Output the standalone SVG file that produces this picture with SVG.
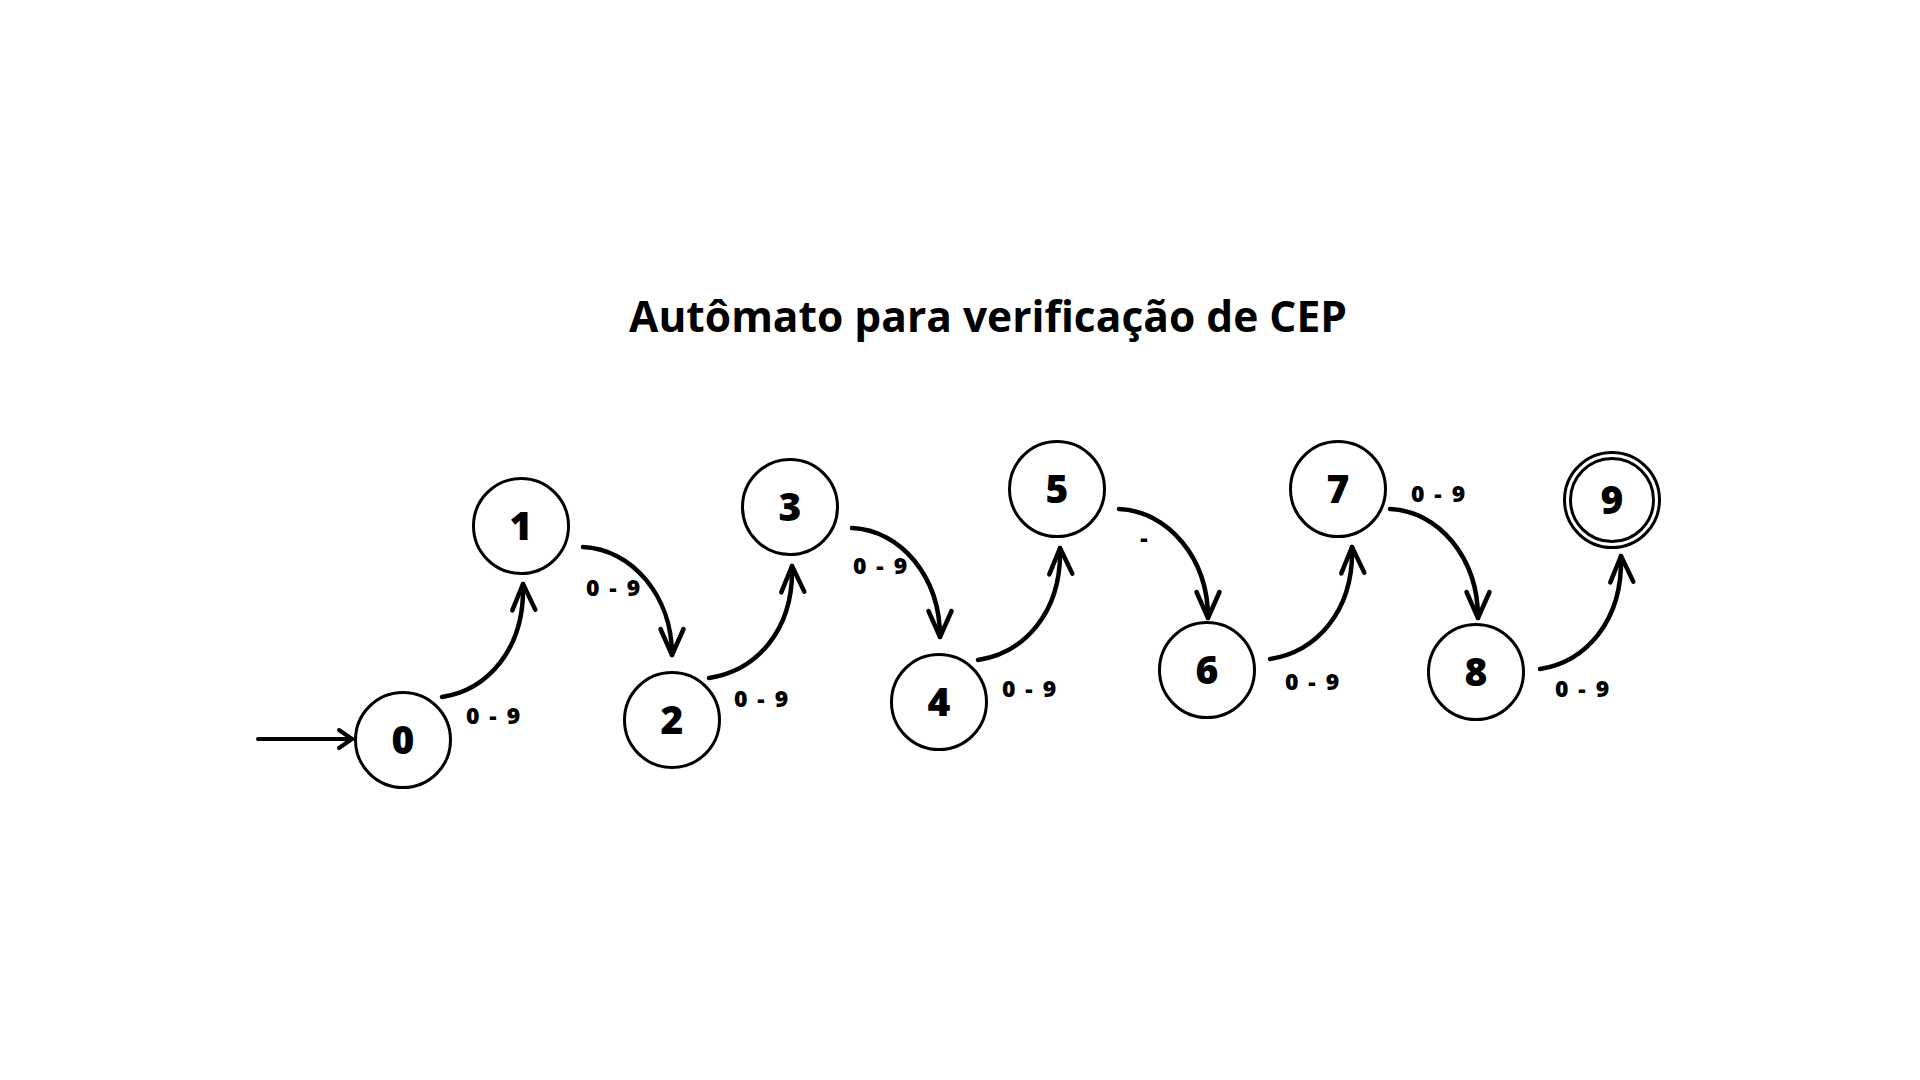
<svg xmlns="http://www.w3.org/2000/svg" width="1920" height="1080" viewBox="0 0 1920 1080">
<style>
.node circle{fill:#fff;stroke:#000;stroke-width:3}
.node text{font-family:"Open Sans","Noto Sans",sans-serif;font-weight:800;font-size:39px;text-anchor:middle;fill:#000}
.edge{fill:none;stroke:#000;stroke-width:4.5;stroke-linecap:round;marker-end:url(#head)}
.lbl{font-family:"Open Sans","Noto Sans",sans-serif;font-weight:800;font-size:23px;letter-spacing:2px;text-anchor:middle;fill:#000}
.title{font-family:"Open Sans","Noto Sans",sans-serif;font-weight:700;font-size:42.5px;text-anchor:middle;fill:#000}
</style>
<defs>
<marker id="head" markerUnits="userSpaceOnUse" markerWidth="40" markerHeight="40" refX="0" refY="0" orient="auto" overflow="visible">
<path d="M-26,-11.5 L0,0 L-26,11.5" fill="none" stroke="#000" stroke-width="4.5" stroke-linecap="round" stroke-linejoin="round"/>
</marker>
<marker id="small" markerUnits="userSpaceOnUse" markerWidth="30" markerHeight="30" refX="0" refY="0" orient="auto" overflow="visible">
<path d="M-13,-9 L0,0 L-13,9" fill="none" stroke="#000" stroke-width="4" stroke-linecap="round" stroke-linejoin="round"/>
</marker>
</defs>
<rect width="1920" height="1080" fill="#fff"/>
<text class="title" x="988" y="332">Autômato para verificação de CEP</text>
<g id="connectors">
<path d="M258,739 L352,739" fill="none" stroke="#000" stroke-width="4" stroke-linecap="round" marker-end="url(#small)"/>
<path class="edge" d="M442,697 C487,690 525,650 523,584"/>
<path class="edge" d="M583,547 C632,549 672,596 672,655"/>
<path class="edge" d="M709,678 C755,671 794,632 792,566"/>
<path class="edge" d="M852,528 C901,530 940,577 940,637"/>
<path class="edge" d="M978,660 C1023,653 1062,614 1060,548"/>
<path class="edge" d="M1119,509 C1168,511 1208,558 1208,618"/>
<path class="edge" d="M1270,659 C1315,652 1354,613 1352,547"/>
<path class="edge" d="M1390,509 C1439,511 1478,558 1478,618"/>
<path class="edge" d="M1540,669 C1585,662 1623,622 1621,556"/>
<text class="lbl" x="494" y="724">0 - 9</text>
<text class="lbl" x="614" y="596">0 - 9</text>
<text class="lbl" x="762" y="707">0 - 9</text>
<text class="lbl" x="881" y="574">0 - 9</text>
<text class="lbl" x="1030" y="697">0 - 9</text>
<text class="lbl" x="1145" y="546">-</text>
<text class="lbl" x="1313" y="690">0 - 9</text>
<text class="lbl" x="1439" y="502">0 - 9</text>
<text class="lbl" x="1583" y="697">0 - 9</text>
</g>
<g id="node0" class="node"><circle cx="403" cy="740" r="47.5"/><text x="403" y="754">0</text></g>
<g id="node1" class="node"><circle cx="521" cy="526" r="47.5"/><text x="521" y="540">1</text></g>
<g id="node2" class="node"><circle cx="672" cy="720" r="47.5"/><text x="672" y="734">2</text></g>
<g id="node3" class="node"><circle cx="790" cy="507" r="47.5"/><text x="790" y="521">3</text></g>
<g id="node4" class="node"><circle cx="939" cy="702" r="47.5"/><text x="939" y="716">4</text></g>
<g id="node5" class="node"><circle cx="1057" cy="489" r="47.5"/><text x="1057" y="503">5</text></g>
<g id="node6" class="node"><circle cx="1207" cy="670" r="47.5"/><text x="1207" y="684">6</text></g>
<g id="node7" class="node"><circle cx="1338" cy="489" r="47.5"/><text x="1338" y="503">7</text></g>
<g id="node8" class="node"><circle cx="1476" cy="672" r="47.5"/><text x="1476" y="686">8</text></g>
<g id="node9" class="node"><circle cx="1612" cy="500" r="47.5"/><circle cx="1612" cy="500" r="41.5"/><text x="1612" y="514">9</text></g>
</svg>
